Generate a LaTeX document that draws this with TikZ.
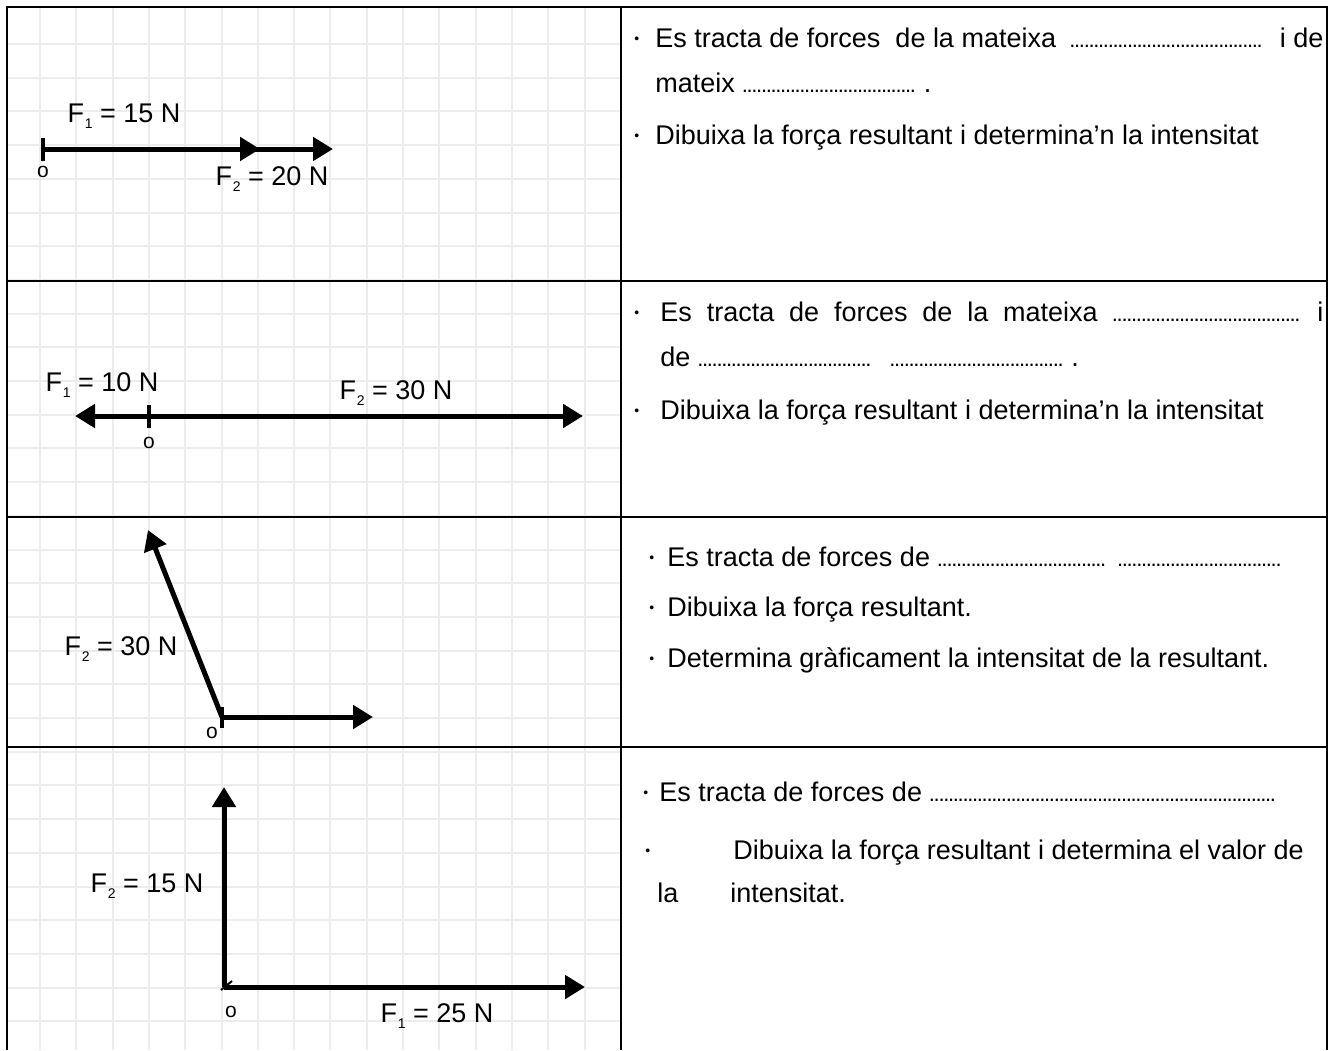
\documentclass[tikz,border=0pt]{standalone}
\usepackage{fontspec}
\setmainfont{Liberation Sans}
\usetikzlibrary{arrows.meta}
\newcommand{\Fsub}[1]{F\kern0.3pt\raisebox{-3pt}{\fontsize{7}{7}\selectfont #1}}
\newcommand{\puntets}[1]{{\fontsize{11}{11}\selectfont\hbox to #1{\leaders\hbox to 2.4pt{\hss.\hss}\hfill}}}
\newcommand{\vinyeta}{\raisebox{2pt}{\fontsize{7}{7}\selectfont\textbullet}}
\begin{document}
\begin{tikzpicture}[x=0.5pt,y=-0.5pt,font=\fontsize{13.5}{16}\selectfont,
  >={Triangle[length=10pt,width=11.5pt]},
  quadricula/.style={gray!15,line width=1pt},
  vora/.style={line width=1.2pt},
  forca/.style={line width=2.5pt,->},
  marca/.style={line width=2pt},
  etiq/.style={anchor=base,inner sep=0pt},
  origen/.style={anchor=base,inner sep=0pt,font=\fontsize{10.5}{12}\selectfont},
  linia/.style={anchor=base west,inner sep=0pt}]
  \useasboundingbox (0,0) rectangle (1336,1050);
  % 方格纸
  \foreach \i in {0,...,16}
    \draw[quadricula] ({40+36.3*\i},7) -- ({40+36.3*\i},1050);
  \foreach \j in {0,...,29}
    \draw[quadricula] (7,{44+33.7*\j}) -- (621,{44+33.7*\j});
  % 表格
  \draw[vora] (7,1050) -- (7,7) -- (1327,7) -- (1327,1050);
  \draw[vora] (621,7) -- (621,1050);
  \foreach \y in {281,517,747}
    \draw[vora] (7,\y) -- (1327,\y);
  % 第一格：同向
  \coordinate (O1) at (43,149);
  \coordinate (P1a) at (260,149);
  \coordinate (P1b) at (333,149);
  \draw[forca] (O1) -- (P1b);
  \draw[forca] (O1) -- (P1a);
  \draw[marca] (O1) ++(0,-11) -- ++(0,23);
  \node[etiq] (f1a) at (124,122) {\Fsub{1} = 15 N};
  \node[origen] (o1) at (43,177) {o};
  \node[etiq] (f2a) at (272,185) {\Fsub{2} = 20 N};
  % 第二格：反向
  \coordinate (O2) at (149,416);
  \coordinate (P2a) at (75,416);
  \coordinate (P2b) at (583,416);
  \draw[forca] (O2) -- (P2a);
  \draw[forca] (O2) -- (P2b);
  \draw[marca] (O2) ++(0,-11) -- ++(0,23);
  \node[etiq] (f1b) at (102,391) {\Fsub{1} = 10 N};
  \node[origen] (o2) at (149,448) {o};
  \node[etiq] (f2b) at (396,399) {\Fsub{2} = 30 N};
  % 第三格：斜向
  \coordinate (O3) at (222,717);
  \coordinate (P3a) at (148,530);
  \coordinate (P3b) at (373,717);
  \draw[forca] (O3) -- (P3a);
  \draw[forca] (O3) -- (P3b);
  \draw[marca] (O3) ++(0,-10) -- ++(0,21);
  \node[etiq] (f2c) at (121,655) {\Fsub{2} = 30 N};
  \node[origen] (o3) at (212,738) {o};
  % 第四格：垂直
  \coordinate (O4) at (224,987);
  \coordinate (P4a) at (224,787);
  \coordinate (P4b) at (585,987);
  \draw[forca] (O4) -- (P4a);
  \draw[forca] (O4) -- (P4b);
  \draw[line width=1pt] (O4) ++(-3,3) -- ++(11,-9);
  \node[origen] (o4) at (231,1017) {o};
  \node[etiq] (f2d) at (147,892) {\Fsub{2} = 15 N};
  \node[etiq] (f1d) at (437,1022) {\Fsub{1} = 25 N};
  % 右栏文字
  \node[linia] (b1a) at (634,47) {\vinyeta};
  \node[linia] (t1a) at (655,47) {\hbox to 334pt{Es tracta de forces\ \ de la mateixa\hfill\puntets{98pt}\hfill i de}};
  \node[linia] (t1b) at (655,92) {mateix \puntets{87pt} .};
  \node[linia] (b1b) at (634,144) {\vinyeta};
  \node[linia] (t1c) at (655,144) {Dibuixa la força resultant i determina'n la intensitat};
  \node[linia] (b2a) at (634,321) {\vinyeta};
  \node[linia] (t2a) at (660,321) {\hbox to 331.5pt{Es\hfill tracta\hfill de\hfill forces\hfill de\hfill la\hfill mateixa\hfill\puntets{95pt}\hfill i}};
  \node[linia] (t2b) at (660,366) {de \puntets{87pt}\hspace{9pt}\puntets{87pt} .};
  \node[linia] (b2b) at (634,419) {\vinyeta};
  \node[linia] (t2c) at (660,419) {Dibuixa la força resultant i determina'n la intensitat};
  \node[linia] (b3a) at (649,566) {\vinyeta};
  \node[linia] (t3a) at (667,566) {Es tracta de forces de \puntets{86pt}\hspace{4pt}\puntets{82pt}};
  \node[linia] (b3b) at (649,616) {\vinyeta};
  \node[linia] (t3b) at (667,616) {Dibuixa la força resultant.};
  \node[linia] (b3c) at (649,667) {\vinyeta};
  \node[linia] (t3c) at (667,667) {Determina gràficament la intensitat de la resultant.};
  \node[linia] (b4a) at (643,801) {\vinyeta};
  \node[linia] (t4a) at (659,801) {Es tracta de forces de \puntets{175pt}};
  \node[linia] (b4b) at (645,859) {\vinyeta};
  \node[linia] (t4b) at (733,859) {Dibuixa la força resultant i determina el valor de};
  \node[linia] (t4c) at (657,902) {la};
  \node[linia] (t4d) at (730,902) {intensitat.};
\end{tikzpicture}
\end{document}
